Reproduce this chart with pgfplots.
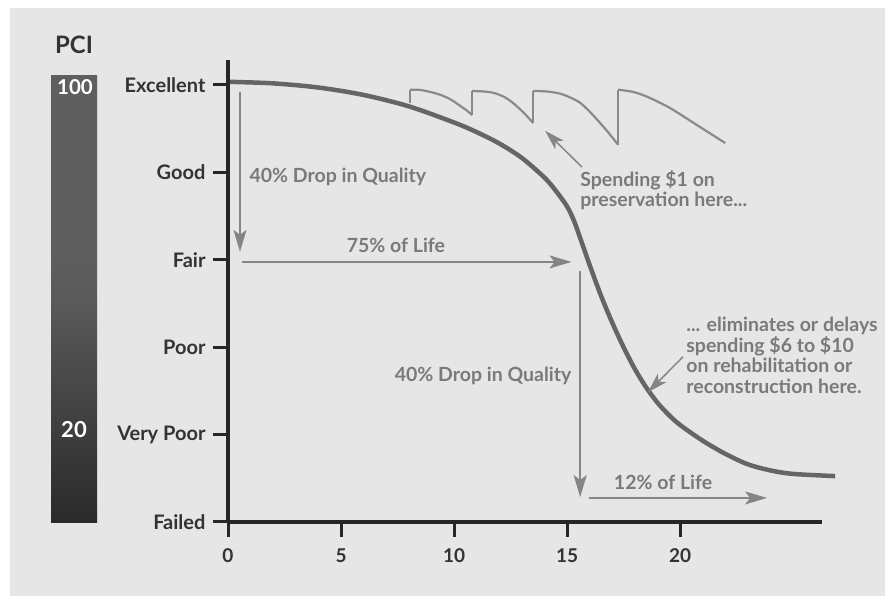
\documentclass[border=0pt]{standalone}
\usepackage{fontspec}
\setmainfont{Lato}
\usepackage{pgfplots}
\pgfplotsset{compat=1.18}
\usetikzlibrary{arrows.meta}
\definecolor{bggray}{HTML}{E6E6E6}
\definecolor{axisdark}{HTML}{262626}
\definecolor{ticktext}{HTML}{333333}
\definecolor{anntext}{HTML}{7A7A7A}
\definecolor{arrowcol}{HTML}{858585}
\definecolor{curvecol}{HTML}{656565}
\definecolor{sawcol}{HTML}{8A8A8A}
\definecolor{bardark}{HTML}{2A2A2A}
\definecolor{barmid}{HTML}{5A5A5A}
\definecolor{barlight}{HTML}{5F5F5F}
\pgfdeclareverticalshading{pcibar}{100bp}{color(0bp)=(bardark); color(25bp)=(bardark); color(50bp)=(barmid); color(56bp)=(barlight); color(100bp)=(barlight)}
\newcommand\lbl{\fontsize{20}{22}\selectfont\bfseries}
\newcommand\xlbl{\fontsize{19}{21}\selectfont\bfseries}
\newcommand\ann{\fontsize{19.5}{20.5}\selectfont\bfseries}
\begin{document}
\begin{tikzpicture}[x=1pt,y=1pt]
\fill[white] (0,0) rectangle (885,596);
\fill[bggray] (10,0) rectangle (885,588);
\shade[shading=pcibar] (51,73) rectangle (97,520);
\node[text=ticktext, font=\fontsize{24}{26}\selectfont\bfseries] at (74,551) {PCI};
\node[text=white, font=\fontsize{20.5}{24}\selectfont\bfseries] at (75,509) {100};
\node[text=white, font=\fontsize{22}{24}\selectfont\bfseries] at (74,166) {20};
\begin{axis}[
 at={(228pt,74pt)}, anchor=south west,
 scale only axis, width=594pt, height=462pt,
 xmin=0, xmax=26.28, ymin=0, ymax=105.7,
 axis x line=bottom, axis y line=left,
 axis line style={-, line width=3.5pt, draw=axisdark},
 tick style={line width=3pt, draw=axisdark},
 tick align=outside, major tick length=15pt,
 xtick={0,5,10,15,20},
 ytick={0,20,40,60,80,100},
 yticklabels={Failed,Very Poor,Poor,Fair,Good,Excellent},
 yticklabel style={font=\lbl, text=ticktext, xshift=-4pt},
 xticklabel style={font=\xlbl, text=ticktext, yshift=-8pt},
 /pgf/number format/assume math mode=true,
 clip=false,
]
% main deterioration curve
\addplot[curvecol, line width=4.5pt, smooth, tension=0.5] coordinates {
 (0.09,100.7) (2,100.35) (4,99.4) (6,97.7) (8,95.1) (10,91.4) (11,89.2) (12,86.6)
 (13,83.3) (14,78.8) (14.5,75.8) (15.0,72.2) (15.3,69.0) (15.58,65.0) (16.0,58.8)
 (16.5,51.8) (17.0,45.6) (17.5,40.0) (18.0,35.0) (18.5,30.8) (19.0,27.3) (19.5,24.5)
 (20.0,22.2) (21.0,18.6) (22.0,15.6) (23.0,13.2) (24.0,11.8) (25.0,11.0) (26.86,10.5)
};
% preservation sawtooth
\addplot[sawcol, line width=2.2pt] coordinates {(8.05,95.9) (8.05,98.9)};
\addplot[sawcol, line width=2.2pt, smooth] coordinates {(8.05,98.9) (8.5,98.85) (8.94,98.4) (9.3,97.9) (9.69,97.1) (10.0,96.2) (10.27,95.2) (10.55,94.2) (10.8,93.1)};
\addplot[sawcol, line width=2.2pt] coordinates {(10.8,93.1) (10.8,98.6)};
\addplot[sawcol, line width=2.2pt, smooth] coordinates {(10.8,98.6) (11.3,98.5) (11.73,98.2) (12.2,97.3) (12.6,95.9) (13.05,93.8) (13.5,91.3)};
\addplot[sawcol, line width=2.2pt] coordinates {(13.5,91.3) (13.5,98.6)};
\addplot[sawcol, line width=2.2pt, smooth] coordinates {(13.5,98.6) (14.1,98.5) (14.69,98.0) (15.15,97.1) (15.58,95.9) (16.0,93.9) (16.46,91.3) (16.86,88.9) (17.26,86.3)};
\addplot[sawcol, line width=2.2pt] coordinates {(17.26,86.3) (17.26,98.9)};
\addplot[sawcol, line width=2.2pt, smooth] coordinates {(17.26,98.9) (17.92,98.4) (18.54,97.3) (19.56,94.7) (20.75,90.8) (22.0,86.7)};
% annotations
\draw[arrowcol, line width=1.8pt, -{Stealth[length=22pt,width=13pt,inset=5pt]}] (axis cs:0.53,98.4) -- (axis cs:0.53,61.8);
\node[anchor=west, text=anntext, font=\ann] at (axis cs:0.8,78.9) {40\% Drop in Quality};
\draw[arrowcol, line width=1.8pt, -{Stealth[length=22pt,width=13pt,inset=5pt]}] (axis cs:0.62,59.5) -- (axis cs:15.2,59.5);
\node[text=anntext, font=\ann] at (axis cs:7.43,63.4) {75\% of Life};
\draw[arrowcol, line width=1.8pt, -{Stealth[length=22pt,width=13pt,inset=5pt]}] (axis cs:15.58,57.4) -- (axis cs:15.58,5.7);
\node[anchor=east, text=anntext, font=\ann] at (axis cs:15.35,33.4) {40\% Drop in Quality};
\draw[arrowcol, line width=1.8pt, -{Stealth[length=22pt,width=13pt,inset=5pt]}] (axis cs:15.97,5.5) -- (axis cs:23.85,5.5);
\node[text=anntext, font=\ann] at (axis cs:19.25,9.15) {12\% of Life};
\node[anchor=west, align=left, text=anntext, font=\ann, inner sep=0pt] at (axis cs:15.58,75.9) {Spending \$1 on\\preservation here...};
\draw[arrowcol, line width=1.5pt, -{Stealth[length=20pt,width=12pt,inset=5pt]}] (axis cs:15.66,81.2) -- (axis cs:14.03,89.5);
\node[anchor=west, align=left, text=anntext, font=\ann, inner sep=0pt] at (axis cs:20.27,38.1) {... eliminates or delays\\spending \$6 to \$10\\on rehabilitation or\\reconstruction here.};
\draw[arrowcol, line width=1.5pt, -{Stealth[length=20pt,width=12pt,inset=5pt]}] (axis cs:20.13,37.8) -- (axis cs:18.58,29.7);
\end{axis}
\end{tikzpicture}
\end{document}
